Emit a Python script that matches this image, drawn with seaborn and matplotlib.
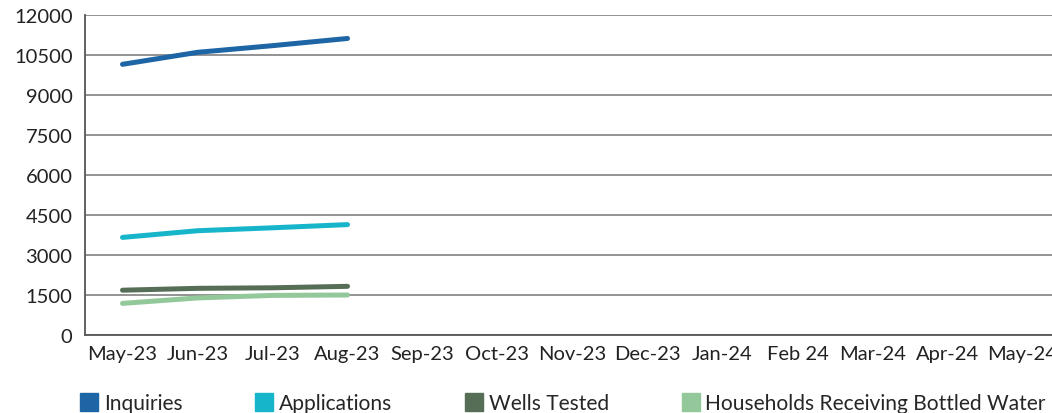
import pandas as pd
import matplotlib.pyplot as plt
import seaborn as sns
from matplotlib.lines import Line2D

months = ['May-23', 'Jun-23', 'Jul-23', 'Aug-23', 'Sep-23', 'Oct-23', 'Nov-23',
          'Dec-23', 'Jan-24', 'Feb 24', 'Mar-24', 'Apr-24', 'May-24']
inquiries = [10150, 10600, 10850, 11120]
applications = [3660, 3910, 4020, 4140]
wells_tested = [1680, 1750, 1770, 1825]
bottled_water = [1185, 1390, 1485, 1500]

series = {
    'Inquiries': inquiries,
    'Applications': applications,
    'Wells Tested': wells_tested,
    'Households Receiving Bottled Water': bottled_water,
}
colors = ['#1d65a4', '#17b5ca', '#566e56', '#93c89b']

rows = []
for name, vals in series.items():
    for i, v in enumerate(vals):
        rows.append({'month': i, 'value': v, 'series': name})
df = pd.DataFrame(rows)

sns.set_style('white')
plt.rcParams['font.family'] = ['Lato', 'DejaVu Sans']

fig = plt.figure(figsize=(10.52, 4.14), dpi=100)
ax = fig.add_axes([85 / 1052, 1 - 336 / 414, 975 / 1052, 320 / 414])

sns.lineplot(data=df, x='month', y='value', hue='series', palette=colors,
             linewidth=3.6, legend=False, ax=ax, solid_capstyle='round')

ax.set_xlim(-0.5, len(months) - 0.5)
ax.set_ylim(0, 12000)
ax.set_xticks(range(len(months)))
ax.set_xticklabels(months)
ax.set_yticks(range(0, 12001, 1500))
ax.set_xlabel('')
ax.set_ylabel('')
ax.tick_params(axis='both', length=0, labelsize=14.5, colors='#222222')
ax.tick_params(axis='y', pad=9)
ax.tick_params(axis='x', pad=7)
ax.grid(axis='y', color='#8a8a8a', linewidth=1.3)
ax.set_axisbelow(True)
for s in ['top', 'right']:
    ax.spines[s].set_visible(False)
for s in ['left', 'bottom']:
    ax.spines[s].set_color('#555555')
    ax.spines[s].set_linewidth(1.3)

handles = [Line2D([], [], marker='s', linestyle='', markersize=13, color=c)
           for c in colors]
fig.legend(handles, list(series.keys()), loc='center left',
           bbox_to_anchor=(82 / 1052, 1 - 404 / 414), ncol=4, frameon=False,
           fontsize=15.1, handlelength=0.7, handletextpad=0.35,
           columnspacing=3.55, borderaxespad=0, borderpad=0)

fig.savefig('out.png', dpi=100)
